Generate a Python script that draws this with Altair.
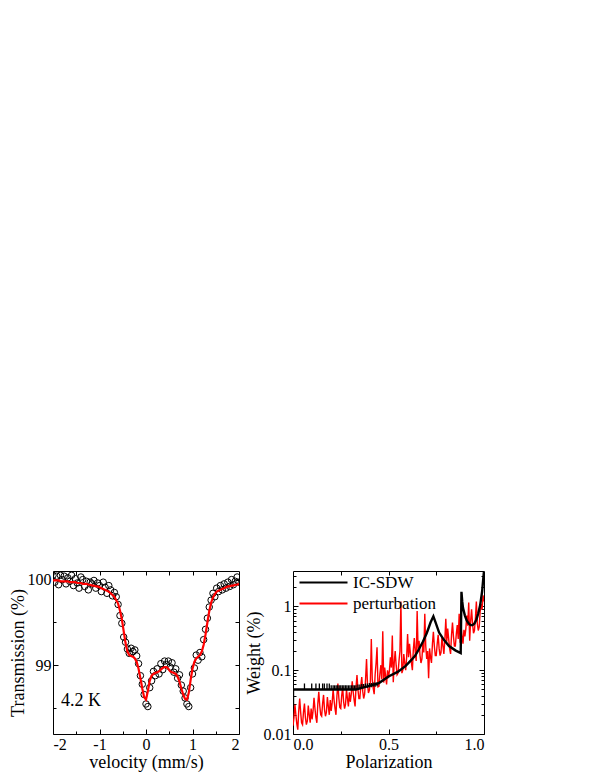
import altair as alt
import pandas as pd

FONT = "Liberation Serif"

# ---------------- left panel: Mossbauer spectrum ----------------
velocity = [round(-2 + 0.04 * i, 2) for i in range(101)]
transmission_data = [
    100.05, 99.97, 100.04, 99.94, 100.05, 100.00, 100.04, 99.95, 100.02, 99.98,
    100.05, 99.93, 100.01, 99.96, 99.90, 100.03, 100.00, 99.92, 99.98, 99.88,
    99.97, 99.95, 99.99, 99.90, 99.96, 99.93, 99.86, 99.97, 99.91, 99.84,
    99.93, 99.88, 99.81, 99.85, 99.80, 99.71, 99.58, 99.49, 99.33, 99.27,
    99.19, 99.14, 99.20, 99.16, 99.18, 99.11, 99.02, 98.88, 98.78, 98.66,
    98.55, 98.52, 98.74, 98.82, 98.93, 98.88, 98.96, 98.90, 99.02, 98.95,
    99.05, 99.01, 99.05, 98.98, 99.03, 98.92, 98.96, 98.85, 98.89, 98.77,
    98.70, 98.62, 98.55, 98.52, 98.74, 98.90, 98.97, 99.12, 99.06, 99.15,
    99.10, 99.30, 99.42, 99.55, 99.68, 99.76, 99.84, 99.80, 99.90, 99.86,
    99.93, 99.88, 99.95, 99.90, 99.97, 99.92, 100.00, 99.94, 99.98, 100.03,
    99.97,
]
transmission_fit = [
    99.99, 99.99, 99.99, 99.99, 99.98, 99.98, 99.98, 99.98, 99.98, 99.97,
    99.97, 99.97, 99.97, 99.96, 99.96, 99.96, 99.95, 99.95, 99.95, 99.94,
    99.94, 99.93, 99.93, 99.92, 99.92, 99.91, 99.90, 99.89, 99.88, 99.87,
    99.86, 99.84, 99.82, 99.80, 99.76, 99.72, 99.64, 99.54, 99.40, 99.26,
    99.16, 99.12, 99.11, 99.10, 99.08, 99.04, 98.96, 98.85, 98.73, 98.63,
    98.60, 98.70, 98.82, 98.88, 98.90, 98.91, 98.92, 98.93, 98.95, 98.97,
    98.98, 98.98, 98.96, 98.93, 98.92, 98.91, 98.90, 98.87, 98.81, 98.73,
    98.66, 98.61, 98.60, 98.68, 98.83, 98.96, 99.04, 99.08, 99.10, 99.12,
    99.16, 99.24, 99.36, 99.50, 99.63, 99.73, 99.79, 99.83, 99.86, 99.87,
    99.88, 99.89, 99.90, 99.91, 99.92, 99.92, 99.93, 99.93, 99.94, 99.94,
    99.95,
]
assert len(transmission_data) == len(velocity) == len(transmission_fit)
temp_label = ["4.2 K"]
temp_v = [-1.83]
temp_t = [98.59]

# ---------------- right panel: polarization distribution ----------------
polarization = [round(0.005 * i, 3) for i in range(201)]
perturbation = [
    0.0135, 0.018, 0.029, 0.020, 0.0144, 0.0117, 0.023, 0.036, 0.022, 0.015,
    0.014, 0.022, 0.030, 0.018, 0.014, 0.016, 0.028, 0.020, 0.015, 0.025,
    0.017, 0.023, 0.037, 0.025, 0.018, 0.015, 0.030, 0.046, 0.028, 0.020,
    0.019, 0.030, 0.041, 0.024, 0.019, 0.022, 0.038, 0.027, 0.020, 0.034,
    0.023, 0.031, 0.050, 0.034, 0.025, 0.020, 0.040, 0.062, 0.037, 0.026,
    0.025, 0.040, 0.054, 0.032, 0.025, 0.029, 0.050, 0.036, 0.027, 0.045,
    0.032, 0.042, 0.067, 0.046, 0.034, 0.027, 0.055, 0.084, 0.050, 0.036,
    0.036, 0.057, 0.078, 0.047, 0.036, 0.042, 0.073, 0.150, 0.060, 0.044,
    0.049, 0.065, 0.310, 0.072, 0.052, 0.042, 0.085, 0.130, 0.230, 0.055,
    0.056, 0.088, 0.120, 0.072, 0.410, 0.064, 0.110, 0.080, 0.060, 0.100,
    0.075, 0.100, 0.160, 0.110, 0.350, 0.065, 0.130, 0.200, 0.120, 0.085,
    0.090, 0.140, 0.200, 1.200, 0.090, 0.100, 0.180, 0.130, 0.100, 0.160,
    0.370, 0.160, 0.260, 0.180, 0.130, 0.100, 0.210, 0.320, 0.190, 0.140,
    0.850, 0.210, 0.290, 0.170, 0.130, 0.150, 0.270, 0.190, 0.770, 0.240,
    0.150, 0.200, 0.075, 0.220, 0.160, 0.130, 0.260, 0.400, 0.240, 0.170,
    0.170, 0.260, 0.360, 0.220, 0.170, 0.190, 0.340, 0.240, 0.180, 0.300,
    0.640, 0.280, 0.450, 0.310, 0.220, 0.180, 0.360, 0.560, 0.340, 0.240,
    0.240, 0.370, 0.510, 0.310, 0.770, 0.270, 0.480, 0.340, 0.260, 0.430,
    0.340, 0.450, 0.720, 0.500, 1.150, 0.290, 0.590, 0.900, 0.540, 0.380,
    0.420, 0.660, 1.200, 0.540, 0.420, 0.480, 0.840, 1.100, 0.900, 1.500,
    1.200,
]
assert len(perturbation) == len(polarization)

sdw_x = [0.0, 0.0, 0.33, 0.36, 0.40, 0.45, 0.50, 0.55, 0.59, 0.62, 0.64, 0.66,
         0.68, 0.70, 0.71, 0.72, 0.735, 0.745, 0.765, 0.79, 0.817, 0.85,
         0.878, 0.882, 0.886, 0.89, 0.90, 0.91, 0.92, 0.93, 0.94, 0.95,
         0.96, 0.97, 0.98, 0.99, 0.995, 1.0]
sdw_y = [0.028, 0.05, 0.05, 0.053, 0.057, 0.063, 0.08, 0.095, 0.117, 0.145, 0.17, 0.215,
         0.28, 0.38, 0.46, 0.56, 0.70, 0.58, 0.39, 0.30, 0.24, 0.205,
         0.186, 1.7, 1.2, 0.95, 0.72, 0.60, 0.54, 0.51, 0.51, 0.54,
         0.62, 0.78, 1.05, 1.7, 2.5, 3.6]
assert len(sdw_x) == len(sdw_y)

spike_x = [0.060, 0.098, 0.120, 0.138, 0.155, 0.164, 0.178, 0.190, 0.200, 0.210,
           0.218, 0.226, 0.234, 0.242, 0.250, 0.258, 0.266, 0.274, 0.282, 0.290,
           0.298, 0.306, 0.314, 0.322, 0.330, 0.340, 0.350, 0.360, 0.370, 0.380,
           0.390, 0.400, 0.410, 0.420, 0.430, 0.440]
spike_lo = [0.050, 0.050, 0.050, 0.050, 0.050, 0.050, 0.050, 0.050, 0.050, 0.050,
            0.050, 0.050, 0.050, 0.050, 0.050, 0.050, 0.050, 0.050, 0.050, 0.050,
            0.050, 0.050, 0.050, 0.050, 0.050, 0.051, 0.051, 0.052, 0.052, 0.053,
            0.053, 0.054, 0.054, 0.055, 0.055, 0.056]
spike_hi = [0.062, 0.062, 0.062, 0.062, 0.062, 0.062, 0.062, 0.062, 0.058, 0.058,
            0.058, 0.058, 0.058, 0.058, 0.058, 0.058, 0.058, 0.058, 0.058, 0.058,
            0.058, 0.058, 0.058, 0.058, 0.058, 0.060, 0.060, 0.061, 0.061, 0.062,
            0.062, 0.063, 0.063, 0.064, 0.064, 0.065]
assert len(spike_x) == len(spike_lo) == len(spike_hi)

series_names = ["IC-SDW", "perturbation"]
series_colors = ["#000000", "#ff0000"]

# ---------------- data frames ----------------
df_left = pd.DataFrame({"v": velocity, "data": transmission_data, "fit": transmission_fit})
df_temp = pd.DataFrame({"v": temp_v, "t": temp_t, "label": temp_label})
df_pert = pd.DataFrame({"p": polarization, "w": perturbation,
                        "series": series_names[1], "o": list(range(len(polarization)))})
df_sdw = pd.DataFrame({"p": sdw_x, "w": sdw_y, "series": series_names[0],
                       "o": list(range(len(sdw_x)))})
df_spk = pd.DataFrame({"p": spike_x, "lo": spike_lo, "hi": spike_hi})


def axis(orient, values, size, title=None, labels=False, **kw):
    return alt.Axis(orient=orient, values=values, tickSize=size, offset=-size,
                    domain=False, grid=False, labels=labels, title=title,
                    ticks=True, tickColor="black", tickWidth=1, **kw)


# ---------------- left chart ----------------
xs_l = alt.Scale(domain=[-2, 2], nice=False)
ys_l = alt.Scale(domain=[98.2, 100.1], nice=False, zero=False)

pts = alt.Chart(df_left).mark_point(shape="circle", size=42, filled=False, clip=True,
                                     color="black", strokeWidth=1, opacity=1).encode(
    x=alt.X("v:Q", scale=xs_l,
            axis=axis("bottom", [-2, -1, 0, 1, 2], 5, title="velocity (mm/s)", labels=True,
                      labelExpr="toString(datum.value)", labelPadding=2, titlePadding=1)),
    y=alt.Y("data:Q", scale=ys_l,
            axis=axis("left", [99, 100], 5, title="Transmission (%)", labels=True,
                      format="d", labelPadding=2, titlePadding=0)),
)
fit = alt.Chart(df_left).mark_line(color="#ff0000", strokeWidth=2.2, clip=True).encode(
    x=alt.X("v:Q", scale=xs_l, axis=axis("top", [-1.5, -1, -0.5, 0, 0.5, 1, 1.5], 4)),
    y=alt.Y("fit:Q", scale=ys_l, axis=axis("right", [98.5, 99, 99.5, 100], 4)),
)
minor_l = alt.Chart(df_left).mark_line(opacity=0, clip=True).encode(
    x=alt.X("v:Q", scale=xs_l, axis=axis("bottom", [-1.5, -0.5, 0.5, 1.5], 3)),
    y=alt.Y("fit:Q", scale=ys_l, axis=axis("left", [98.5, 99.5], 3)),
)
temp = alt.Chart(df_temp).mark_text(align="left", baseline="middle", font=FONT,
                                    fontSize=18, color="black").encode(
    x=alt.X("v:Q", scale=xs_l, axis=None),
    y=alt.Y("t:Q", scale=ys_l, axis=None),
    text="label:N",
)
left = alt.layer(pts, fit, minor_l, temp).resolve_axis(
    x="independent", y="independent").properties(width=186, height=163)

# ---------------- right chart ----------------
xs_r = alt.Scale(domain=[0, 1], nice=False)
ys_r = alt.Scale(type="log", domain=[0.01, 3.6], nice=False)
cscale = alt.Scale(domain=series_names, range=series_colors)
legend = alt.Legend(title=None, orient="none", legendX=245, legendY=1, symbolType="stroke",
                    symbolSize=2304, symbolStrokeWidth=2.2, clipHeight=21,
                    labelFont=FONT, labelFontSize=17, labelColor="black",
                    padding=0, rowPadding=0, labelOffset=4)

minor_log = [0.02, 0.03, 0.04, 0.05, 0.06, 0.07, 0.08, 0.09,
             0.2, 0.3, 0.4, 0.5, 0.6, 0.7, 0.8, 0.9, 2, 3]

red = alt.Chart(df_pert).mark_line(strokeWidth=1.4, clip=True).encode(
    x=alt.X("p:Q", scale=xs_r,
            axis=axis("bottom", [0, 0.5, 1], 5, title="Polarization", labels=True,
                      format=".1f", labelPadding=2, titlePadding=1)),
    y=alt.Y("w:Q", scale=ys_r,
            axis=axis("left", [0.01, 0.1, 1], 5, title="Weight (%)", labels=True,
                      format="~g", labelPadding=2, titlePadding=0)),
    color=alt.Color("series:N", scale=cscale, legend=legend),
    order="o:Q",
)
black = alt.Chart(df_sdw).mark_line(strokeWidth=2.4, clip=True).encode(
    x=alt.X("p:Q", scale=xs_r, axis=axis("top", [0.25, 0.5, 0.75], 4)),
    y=alt.Y("w:Q", scale=ys_r, axis=axis("right", [0.01, 0.1, 1], 5)),
    color=alt.Color("series:N", scale=cscale, legend=legend),
    order="o:Q",
)
spikes = alt.Chart(df_spk).mark_rule(color="black", strokeWidth=1.3).encode(
    x=alt.X("p:Q", scale=xs_r, axis=axis("bottom", [0.25, 0.75], 3)),
    y=alt.Y("lo:Q", scale=ys_r, axis=axis("left", minor_log, 3)),
    y2="hi:Q",
)
minor_r = alt.Chart(df_sdw).mark_line(opacity=0, clip=True).encode(
    x=alt.X("p:Q", scale=xs_r, axis=None),
    y=alt.Y("w:Q", scale=ys_r, axis=axis("right", minor_log, 3)),
)
right = alt.layer(red, black, spikes, minor_r).resolve_axis(
    x="independent", y="independent").properties(width=191, height=163)

chart = alt.hconcat(left, right, spacing=4).properties(
    padding={"left": 0, "top": 562, "right": 0, "bottom": 0}
).configure_view(stroke="black", strokeWidth=1).configure_axis(
    labelFont=FONT, titleFont=FONT, labelFontSize=16, titleFontSize=18,
    titleFontWeight="normal", labelColor="black", titleColor="black",
).configure_legend(labelFont=FONT)

chart.save("out.html", embed_options={"renderer": "svg", "actions": False})
